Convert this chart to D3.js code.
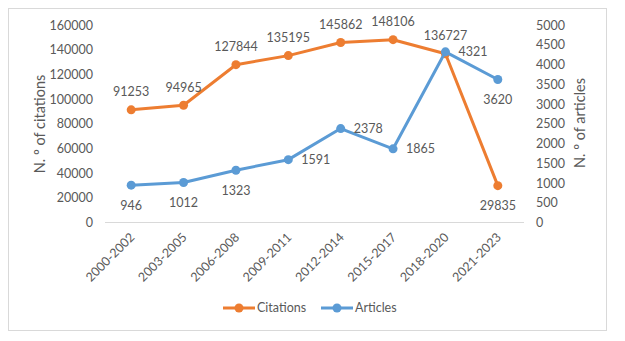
<!DOCTYPE html>
<html>
<head>
<meta charset="utf-8">
<script src="https://cdn.jsdelivr.net/npm/d3@7"></script>
<style>
  body { margin: 0; background: #fff; }
  text { font-family: Lato, "Open Sans", sans-serif; fill: #595959; }
</style>
</head>
<body>
<div id="chart"></div>
<script>
// data
const periods = ["2000-2002", "2003-2005", "2006-2008", "2009-2011", "2012-2014", "2015-2017", "2018-2020", "2021-2023"]
const citations = [91253, 94965, 127844, 135195, 145862, 148106, 136727, 29835]
const articles = [946, 1012, 1323, 1591, 2378, 1865, 4321, 3620]
// where Excel put each data label
const citationLabelPos = ["above", "above", "above", "above", "above", "above", "above", "below"]
const articleLabelPos = ["below", "below", "below", "right", "right", "right", "right", "below"]
const leftTicks = [0, 20000, 40000, 60000, 80000, 100000, 120000, 140000, 160000]
const rightTicks = [0, 500, 1000, 1500, 2000, 2500, 3000, 3500, 4000, 4500, 5000]

const W = 625, H = 341
const orange = "#ED7D31", blue = "#5B9BD5"
const fs = 12.5

const svg = d3.select("#chart")
  .append("svg")
    .attr("width", W)
    .attr("height", H)

// outer frame
svg.append("rect")
  .attr("x", 8.5).attr("y", 8.5)
  .attr("width", 598).attr("height", 322)
  .attr("fill", "#fff")
  .attr("stroke", "#d9d9d9")

const x = d3.scaleBand()
  .domain(periods)
  .range([105, 524])

const yL = d3.scaleLinear().domain([0, 160000]).range([222.5, 25])
const yR = d3.scaleLinear().domain([0, 5000]).range([222.5, 25])

// x axis line
svg.append("line")
  .attr("x1", 105).attr("x2", 524)
  .attr("y1", yL(0)).attr("y2", yL(0))
  .attr("stroke", "#d9d9d9")

// left axis
const gl = svg.append("g")
  .attr("transform", "translate(93,0)")
  .call(d3.axisLeft(yL).tickValues(leftTicks).tickSize(0).tickPadding(0).tickFormat(d3.format("d")))
gl.select(".domain").remove()
gl.selectAll("text").style("font-size", fs + "px").attr("fill", "#595959")

// right axis
const gr = svg.append("g")
  .attr("transform", "translate(536,0)")
  .call(d3.axisRight(yR).tickValues(rightTicks).tickSize(0).tickPadding(0).tickFormat(d3.format("d")))
gr.select(".domain").remove()
gr.selectAll("text").style("font-size", fs + "px").attr("fill", "#595959")

// category labels, rotated
svg.append("g").selectAll("text")
  .data(periods)
  .join("text")
    .attr("transform", d => "translate(" + (x(d) + x.bandwidth() / 2 + 1) + ",235) rotate(-45)")
    .attr("text-anchor", "end")
    .attr("dy", "0.35em")
    .style("font-size", fs + "px")
    .text(d => d)

// axis titles
svg.append("text")
  .attr("transform", "translate(40,124) rotate(-90)")
  .attr("text-anchor", "middle")
  .attr("dy", "0.35em")
  .style("font-size", "14.5px")
  .text("N. º of citations")

svg.append("text")
  .attr("transform", "translate(580,123) rotate(-90)")
  .attr("text-anchor", "middle")
  .attr("dy", "0.35em")
  .style("font-size", "14.5px")
  .text("N. º of articles")

function drawSeries(values, y, color, labelPos) {
  const pts = values.map((v, i) => ({v: v, x: x(periods[i]) + x.bandwidth() / 2, y: y(v), pos: labelPos[i]}))
  const line = d3.line().x(d => d.x).y(d => d.y)
  svg.append("path")
    .datum(pts)
    .attr("d", line)
    .attr("fill", "none")
    .attr("stroke", color)
    .attr("stroke-width", 3)
    .attr("stroke-linejoin", "round")
  svg.append("g").selectAll("circle")
    .data(pts)
    .join("circle")
      .attr("cx", d => d.x).attr("cy", d => d.y)
      .attr("r", 4.5)
      .attr("fill", color)
  svg.append("g").selectAll("text")
    .data(pts)
    .join("text")
      .attr("x", d => d.pos == "right" ? d.x + 13 : d.x)
      .attr("y", d => d.pos == "above" ? d.y - 18 : d.pos == "below" ? d.y + 20 : d.y)
      .attr("dy", "0.35em")
      .attr("text-anchor", d => d.pos == "right" ? "start" : "middle")
      .style("font-size", fs + "px")
      .text(d => d.v)
}

drawSeries(citations, yL, orange, citationLabelPos)
drawSeries(articles, yR, blue, articleLabelPos)

// legend
const legend = [{name: "Citations", color: orange, x: 223}, {name: "Articles", color: blue, x: 321}]
const lg = svg.append("g").selectAll("g")
  .data(legend)
  .join("g")
    .attr("transform", d => "translate(" + d.x + ",308)")
lg.append("line")
  .attr("x1", 0).attr("x2", 32)
  .attr("stroke", d => d.color)
  .attr("stroke-width", 3)
lg.append("circle")
  .attr("cx", 16).attr("r", 4.5)
  .attr("fill", d => d.color)
lg.append("text")
  .attr("x", 34)
  .attr("dy", "0.35em")
  .style("font-size", fs + "px")
  .text(d => d.name)
</script>
</body>
</html>
